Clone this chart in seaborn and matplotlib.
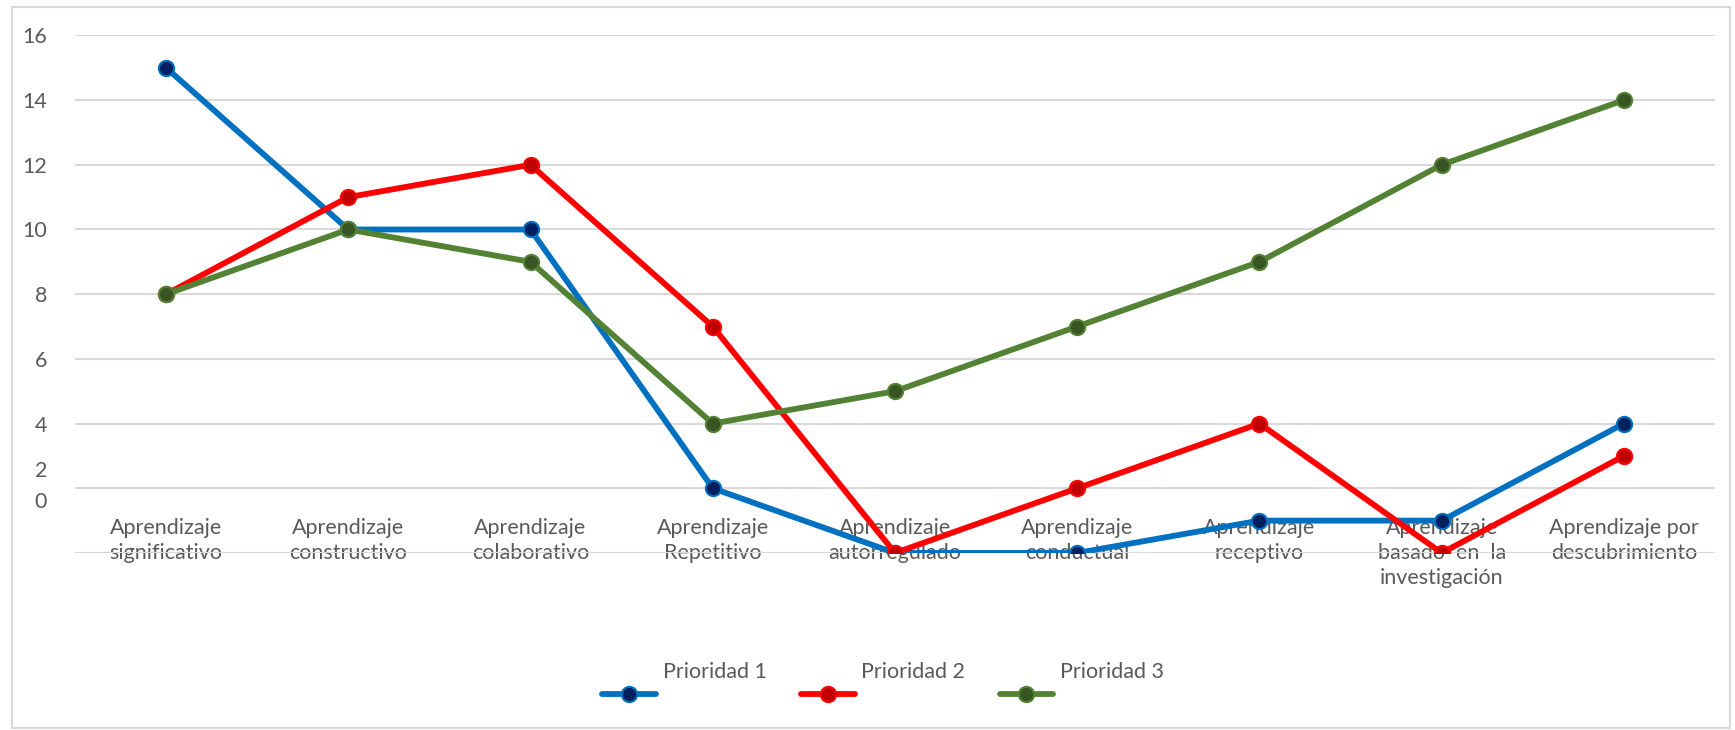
import matplotlib
matplotlib.use("Agg")
import matplotlib.pyplot as plt
import matplotlib.transforms as mtransforms
from matplotlib.patches import Rectangle
import seaborn as sns
import pandas as pd

categorias = ["Aprendizaje\nsignificativo", "Aprendizaje\nconstructivo", "Aprendizaje\ncolaborativo",
              "Aprendizaje\nRepetitivo", "Aprendizaje\nautorregulado", "Aprendizaje\nconductual",
              "Aprendizaje\nreceptivo", "Aprendizaje\nbasado  en  la\ninvestigación",
              "Aprendizaje por\ndescubrimiento"]
prioridad_1 = [15, 10, 10, 2, 0, 0, 1, 1, 4]
prioridad_2 = [8, 11, 12, 7, 0, 2, 4, 0, 3]
prioridad_3 = [8, 10, 9, 4, 5, 7, 9, 12, 14]
series = ["Prioridad 1", "Prioridad 2", "Prioridad 3"]
colores = ["#0070C0", "#FF0000", "#548235"]
marcadores = ["#002060", "#C00000", "#375623"]

# etiquetas del eje y tal como salen en el original (2 y 0 desplazados)
ytick_pos = [1.64, 2.6, 4, 6, 8, 10, 12, 14, 16]
ytick_lab = ["0", "2", "4", "6", "8", "10", "12", "14", "16"]

df = pd.DataFrame({"cat": list(range(len(categorias))) * 3,
                   "valor": prioridad_1 + prioridad_2 + prioridad_3,
                   "serie": [s for s in series for _ in categorias]})

sns.set_style("white")
plt.rcParams["font.family"] = ["Lato", "DejaVu Sans"]
txt = "#595959"
fs = 15.5

fig = plt.figure(figsize=(17.35, 7.30), dpi=100)
ax = fig.add_axes([0.0432, 0.2425, 0.9453, 0.709])

for s, c, m in zip(series, colores, marcadores):
    d = df[df.serie == s]
    sns.lineplot(data=d, x="cat", y="valor", ax=ax, color=c, lw=4.2, marker="o",
                 markersize=11, markerfacecolor=m, markeredgecolor=c, markeredgewidth=1.5,
                 label=s, zorder=3)

ax.set_xlim(-0.5, len(categorias) - 0.5)
ax.set_ylim(0, 16)
ax.yaxis.remove_overlapping_locs = False
ax.set_xticks(range(len(categorias)), categorias, linespacing=1.3)
ax.set_yticks(ytick_pos, ytick_lab)
ax.set_yticks(range(0, 17, 2), minor=True)
ax.grid(which="minor", axis="y", color="#D9D9D9", lw=1.5)
ax.grid(which="major", axis="both", visible=False)
ax.tick_params(axis="x", which="both", length=0, pad=-25, labelsize=fs, labelcolor=txt)
ax.tick_params(axis="y", which="both", length=0, pad=20, labelsize=fs, labelcolor=txt)
ax.set_xlabel("")
ax.set_ylabel("")
for sp in ax.spines.values():
    sp.set_visible(False)

leg = ax.legend(loc="center", bbox_to_anchor=(0.509, 0.0466), bbox_transform=fig.transFigure,
                ncol=3, frameon=False, fontsize=fs, handlelength=2.5, handletextpad=0.3,
                columnspacing=1.6)
for t in leg.get_texts():
    t.set_color(txt)
    t.set_transform(t.get_transform() + mtransforms.ScaledTranslation(0, 17 / 72, fig.dpi_scale_trans))

fig.patches.append(Rectangle((0.007, 0.003), 0.99, 0.988, transform=fig.transFigure,
                             fill=False, ec="#D9D9D9", lw=1.5))

fig.savefig("out.png", dpi=100)
